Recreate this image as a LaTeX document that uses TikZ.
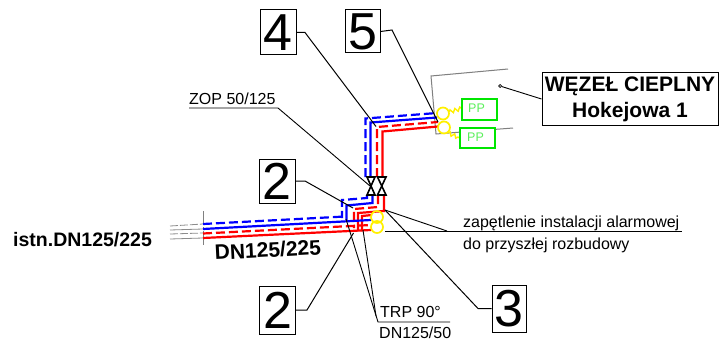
\documentclass[tikz,border=0pt]{standalone}
\usepackage{fontspec}
\setmainfont{Liberation Sans}
\usetikzlibrary{decorations.pathmorphing}
\definecolor{pipeblue}{RGB}{0,0,255}
\definecolor{pipered}{RGB}{255,0,0}
\definecolor{loopy}{RGB}{255,240,0}
\definecolor{pumpg}{RGB}{0,230,0}
\definecolor{pumpt}{RGB}{90,240,90}
\tikzset{
  numbox/.style={draw=black,line width=1pt,fill=white,inner sep=0pt,minimum width=36pt,minimum height=45pt,font=\fontsize{52}{52}\selectfont},
  leader/.style={draw=black,line width=1pt},
  thinlead/.style={draw=black,line width=0.9pt},
  bluepipe/.style={draw=pipeblue,line width=2.2pt},
  redpipe/.style={draw=pipered,line width=2.2pt},
  bluedash/.style={bluepipe,dash pattern=on 9pt off 4pt},
  reddash/.style={redpipe,dash pattern=on 9pt off 4pt},
  greyl/.style={draw=black!50,line width=1pt},
  greyt/.style={draw=black!45,line width=0.8pt},
  pumpbox/.style={draw=pumpg,line width=1.6pt,fill=white,minimum width=35pt,minimum height=21pt,inner sep=0pt},
  pumptext/.style={text=pumpt,font=\fontsize{12.5}{12.5}\selectfont,inner sep=0pt},
  looprg/.style={draw=loopy,line width=1.7pt},
  springl/.style={draw=loopy,line width=1.4pt,decorate,decoration={snake,amplitude=1.8pt,segment length=5pt}},
  lbl/.style={inner sep=0pt,font=\fontsize{16}{16}\selectfont,anchor=base west},
  valve/.style={draw=black,line width=1.6pt}
}
\begin{document}
\begin{tikzpicture}[x=1pt,y=-1pt]
\useasboundingbox (0,0) rectangle (722,342);
\fill[white] (0,0) rectangle (722,342);
% building outline
\draw[greyl] (508,69) -- (431,76) -- (436,134) -- (513,128);
% grey stubs
\draw[greyt,dash pattern=on 8pt off 2pt] (170,226) -- (203,224);
\draw[greyt] (170,230) -- (203,229);
\draw[greyt,dash pattern=on 8pt off 2pt] (170,234) -- (203,233);
\draw[greyt] (170,239) -- (203,238);
\draw[greyl,line width=0.7pt,dash pattern=on 14pt off 2pt on 2pt off 2pt] (203,211) -- (203,246);
% pipes upper
\draw[bluedash] (367,195) -- (367,198) -- (342,200) -- (342,218);
\draw[bluepipe] (372.5,195) -- (372.5,203) -- (346.5,205.5) -- (346.5,220);
\draw[reddash] (378,195) -- (378,207) -- (354,209) -- (354,228);
\draw[redpipe] (384,195) -- (384,211) -- (358,213) -- (358,231);
\draw[redpipe] (362,231) -- (362,216) -- (372,215);
% main
\draw[bluedash] (203,224) -- (345,216.5);
\draw[bluepipe] (203,229) -- (371,220);
\draw[reddash] (203,233.5) -- (371,225);
\draw[redpipe] (203,238) -- (371,230);
% vertical riser
\draw[bluedash] (365.5,177) -- (365.5,118.5) -- (437,113);
\draw[bluepipe] (370.5,177) -- (370.5,122.5) -- (437,117.5);
\draw[reddash] (377,177) -- (377,127) -- (438,122);
\draw[redpipe] (382.5,177) -- (382.5,131.5) -- (438,126.5);
% valves
\draw[valve] (367,177) -- (375,177) -- (367,195) -- (375,195) -- cycle;
\draw[valve] (377.5,177) -- (386,177) -- (377.5,195) -- (386,195) -- cycle;
% loops
\draw[looprg] (377,217) circle (6);
\draw[looprg] (377,227) circle (6);
\draw[looprg] (443,113.5) circle (6);
\draw[looprg] (444,127.5) circle (6);
\draw[springl] (449,112) -- (463,108);
\draw[springl] (448,133) -- (460,138);
% pumps
\node[pumpbox] (pa) at (479.5,109.5) {};
\node[pumpbox,minimum height=20pt] (pb) at (477.5,138) {};
\node[pumptext,anchor=west] at (468,108.5) {PP};
\node[pumptext,anchor=west] at (467,137) {PP};
% number boxes
\node[numbox] (n4) at (278,32.5) {4};
\node[numbox,minimum width=35pt,minimum height=43pt] (n5) at (362.5,31.5) {5};
\node[numbox,minimum height=44pt] (n2a) at (277,181) {2};
\node[numbox,minimum height=48pt] (n2b) at (277.5,310) {2};
\node[numbox,minimum width=34pt,minimum height=47pt] (n3) at (509,308.5) {3};
% leader ends
\coordinate (e4) at (376,126.5);
\coordinate (e5) at (438,122);
\coordinate (e2a) at (353,208);
\coordinate (e2b) at (353.5,233);
\coordinate (e3) at (385,210);
\coordinate (tm) at (378,322);
\coordinate (te) at (450,322);
\coordinate (t1) at (346,219);
\coordinate (t2) at (363,230);
\coordinate (zs) at (189,108);
\coordinate (zk) at (278,108);
\coordinate (ze) at (370,186);
\coordinate (ya) at (385,231);
\coordinate (yb) at (682,231);
\coordinate (yc) at (447,231);
\draw[leader] (n4.east) -- (305,32.5) -- (e4);
\draw[leader] (n5.east) -- (392,30) -- (e5);
\draw[leader] (n2a.east) -- (305,181) -- (e2a);
\draw[leader] (n2b.east) -- (307,310) -- (e2b);
\draw[leader] (n3.west) -- (478,308.5) -- (e3);
\draw[thinlead] (e3) -- (yc);
\draw[thinlead] (ya) -- (yb);
\draw[thinlead] (zs) -- (zk) -- (ze);
\draw[thinlead] (te) -- (tm) -- (t1);
\draw[thinlead] (t2) -- (376,316);
% text
\node[lbl] (zop) at (189,104.5) {ZOP 50/125};
\node[lbl] (zap) at (463,227) {zapętlenie instalacji alarmowej};
\node[lbl] (dop) at (463,249) {do przyszłej rozbudowy};
\node[lbl] (trp) at (380,317) {TRP 90°};
\node[lbl] (dn) at (379,338) {DN125/50};
\node[inner sep=0pt,font=\bfseries\fontsize{19.5}{19.5}\selectfont,anchor=base west] (istn) at (13,246) {istn.DN125/225};
\node[inner sep=0pt,font=\bfseries\fontsize{21}{21}\selectfont,anchor=base west,rotate=3] (dnm) at (215,260) {DN125/225};
% station
\node[draw=black,line width=1pt,fill=white,inner sep=0pt,minimum width=176pt,minimum height=52pt,align=center,font=\bfseries\fontsize{21}{26}\selectfont] (wez) at (630,99) {WĘZEŁ CIEPLNY\\Hokejowa 1};
\node[draw=black,fill=white,circle,inner sep=0pt,minimum size=3pt,line width=0.7pt] (dot) at (500,86) {};
\draw[thinlead] (dot) -- (wez.west);
\end{tikzpicture}
\end{document}
